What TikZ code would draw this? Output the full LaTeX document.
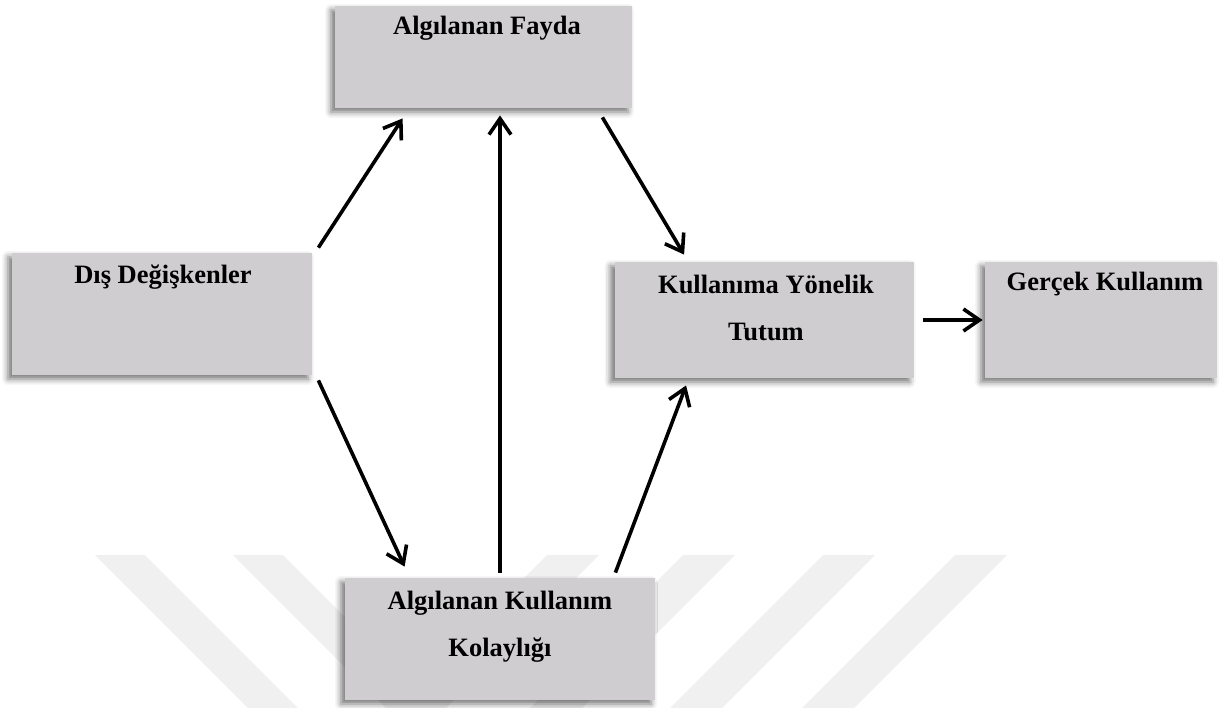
\documentclass[tikz,border=0pt]{standalone}
\usepackage{fontspec}
\setmainfont{Liberation Serif}
\usetikzlibrary{arrows.meta,calc,shadows.blur}
\definecolor{boxgray}{RGB}{207,205,208}
\definecolor{wmark}{RGB}{240,240,240}
\tikzset{
  box/.style={rectangle, fill=boxgray, draw=none, inner sep=0pt,
    blur shadow={shadow xshift=-2pt, shadow yshift=-2pt, shadow blur radius=3pt, shadow opacity=55}},
  lbl/.style={font=\fontsize{13.25}{23.5}\selectfont\bfseries, align=center, inner sep=0pt},
  conn/.style={line width=1.8pt, -{Straight Barb[length=8pt,width=11pt]}},
  band/.style={fill=wmark, draw=none}
}
\begin{document}
\begin{tikzpicture}[x=0.5pt,y=-0.5pt]
\useasboundingbox (0,0) rectangle (1223,708);
% watermark bands
\foreach \a in {95,233}{
  \fill[band] (\a,555) -- (\a+50,555) -- (\a+50+153,708) -- (\a+153,708) -- cycle;
}
\foreach \a in {547,683,823,955}{
  \fill[band] (\a,555) -- (\a+52,555) -- (\a+52-153,708) -- (\a-153,708) -- cycle;
}
% boxes
\node[box, minimum width=148.5pt, minimum height=51pt] (fayda) at (483.5,57) {};
\node[box, minimum width=150pt, minimum height=61pt] (dis) at (162,314) {};
\node[box, minimum width=149.5pt, minimum height=58pt] (tutum) at (764,320) {};
\node[box, minimum width=116pt, minimum height=58pt] (gercek) at (1101,320) {};
\node[box, minimum width=155pt, minimum height=61pt] (kolay) at (500,639) {};
% texts
\node[lbl] (faydaT) at (487,28) {Algılanan Fayda};
\node[lbl] (disT) at (163,277) {Dış Değişkenler};
\node[lbl] (tutumT) at (766,308) {Kullanıma Yönelik\\Tutum};
\node[lbl] (gercekT) at (1105,284) {Gerçek Kullanım};
\node[lbl] (kolayT) at (500,627) {Algılanan Kullanım\\Kolaylığı};
% connectors
\draw[conn] ($(dis.north east)+(6,-5)$) -- ($(fayda.south west)+(68,10)$);
\draw[conn] ($(kolay.north)+(0,-5)$) -- ($(kolay.north|-fayda.south)+(0,7)$);
\draw[conn] ($(fayda.south east)+(-30,9)$) -- ($(tutum.north west)+(70,-7)$);
\draw[conn] ($(dis.south east)+(6,5)$) -- ($(kolay.north west)+(60,-11)$);
\draw[conn] ($(kolay.north east)+(-40,-5)$) -- ($(tutum.south west)+(72,7)$);
\draw[conn] ($(tutum.east)+(9,0)$) -- ($(gercek.west)+(-2,0)$);
\end{tikzpicture}
\end{document}
